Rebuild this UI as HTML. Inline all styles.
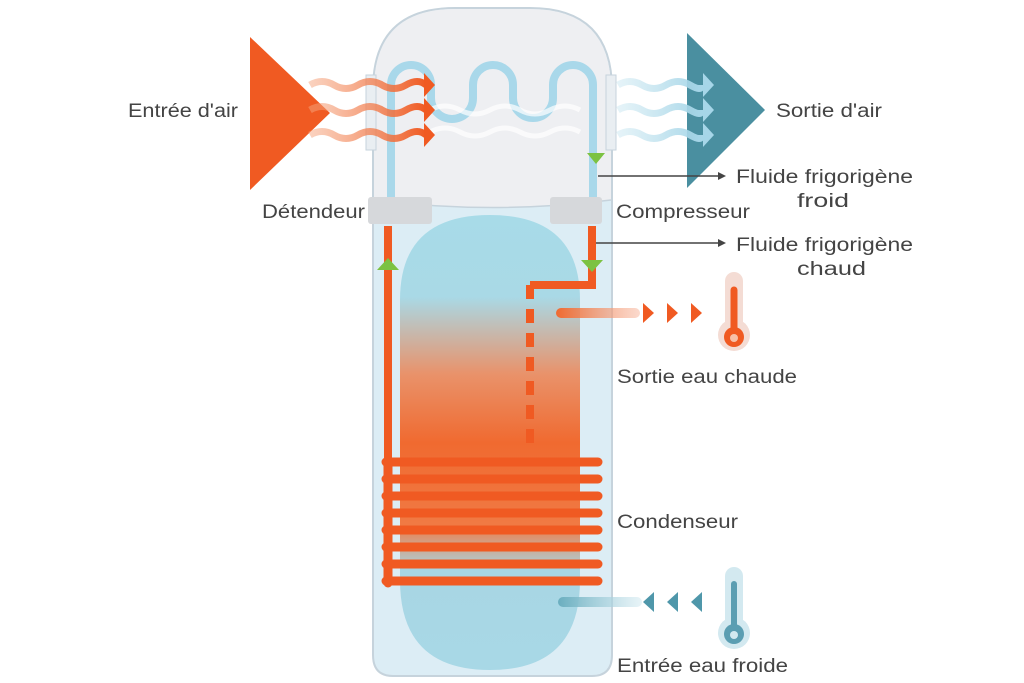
<!DOCTYPE html>
<html><head><meta charset="utf-8"><style>
html,body{margin:0;padding:0;background:#fff;width:1024px;height:683px;overflow:hidden}
svg{display:block}
text{font-family:"Liberation Sans",sans-serif;fill:#444;font-size:19px}
</style></head><body>
<svg width="1024" height="683" viewBox="0 0 1024 683" xmlns="http://www.w3.org/2000/svg">
<defs>
<linearGradient id="tank" x1="0" y1="0" x2="0" y2="1">
<stop offset="0" stop-color="#a8dbe8"/>
<stop offset="0.18" stop-color="#a9d9e6"/>
<stop offset="0.35" stop-color="#e9926a"/>
<stop offset="0.5" stop-color="#f06a30"/>
<stop offset="0.68" stop-color="#f07a44"/>
<stop offset="0.78" stop-color="#a8d6e4"/>
<stop offset="1" stop-color="#a8d8e6"/>
</linearGradient>
<linearGradient id="og" x1="0" x2="1"><stop offset="0" stop-color="#f5a57f" stop-opacity="0.5"/><stop offset="1" stop-color="#f05a22"/></linearGradient>
<linearGradient id="bg" x1="0" x2="1"><stop offset="0" stop-color="#bfe2ee" stop-opacity="0.4"/><stop offset="1" stop-color="#a6d6e8"/></linearGradient>
<linearGradient id="hot" x1="0" x2="1"><stop offset="0" stop-color="#f06a30"/><stop offset="1" stop-color="#f7b49a" stop-opacity="0.5"/></linearGradient>
<linearGradient id="cold" x1="0" x2="1"><stop offset="0" stop-color="#6aaebf"/><stop offset="1" stop-color="#cfe8f0" stop-opacity="0.5"/></linearGradient>
</defs>
<path d="M373 200 L373 90 Q373 8 455 8 L530 8 Q612 8 612 90 L612 655 Q612 676 592 676 L393 676 Q373 676 373 655 Z" fill="#dcedf5" stroke="#c6d3dc" stroke-width="2"/>
<path d="M374 200 L374 90 Q374 9 455 9 L530 9 Q611 9 611 90 L611 200 Q492 215 374 200 Z" fill="#eeeff2"/>
<path d="M374 200 Q492 215 611 200" fill="none" stroke="#c6d3dc" stroke-width="1.5"/>
<rect x="366" y="75" width="10" height="75" fill="#e9eef2" stroke="#c6d3dc"/>
<rect x="606" y="75" width="10" height="75" fill="#e9eef2" stroke="#c6d3dc"/>
<path d="M400 300 Q400 215 490 215 Q580 215 580 300 L580 580 Q580 670 490 670 Q400 670 400 580 Z" fill="url(#tank)"/>
<path d="M391 200 L391 85 A20 20 0 0 1 431 85 L431 98 A21 21 0 0 0 473 98 L473 85 A20 20 0 0 1 513 85 L513 98 A20 20 0 0 0 553 98 L553 85 A20 20 0 0 1 593 85 L593 200" fill="none" stroke="#a9d8ea" stroke-width="8"/>
<path d="M430 110 q15 -8 30 0 t30 0 t30 0 t30 0 t30 0" fill="none" stroke="#fff" stroke-width="5" opacity="0.7"/>
<path d="M430 132 q15 -8 30 0 t30 0 t30 0 t30 0 t30 0" fill="none" stroke="#fff" stroke-width="5" opacity="0.7"/>
<path d="M388 226 L388 470" stroke="#f05a22" stroke-width="8" fill="none"/>
<path d="M592 226 L592 285 L530 285" stroke="#f05a22" stroke-width="8" fill="none"/>
<path d="M530 285 L530 445" stroke="#f05a22" stroke-width="8" fill="none" stroke-dasharray="14 10"/>
<rect x="368" y="197" width="64" height="27" rx="3" fill="#d6d8db"/>
<rect x="550" y="197" width="52" height="27" rx="3" fill="#d6d8db"/>
<polygon points="587,153 605,153 596,164" fill="#7cc242"/>
<polygon points="581,260 603,260 592,272" fill="#7cc242"/>
<polygon points="377,270 399,270 388,258" fill="#7cc242"/>
<g stroke="#f05a22" stroke-width="9" stroke-linecap="round">
<line x1="386" y1="462" x2="598" y2="462"/><line x1="386" y1="479" x2="598" y2="479"/>
<line x1="386" y1="496" x2="598" y2="496"/><line x1="386" y1="513" x2="598" y2="513"/>
<line x1="386" y1="530" x2="598" y2="530"/><line x1="386" y1="547" x2="598" y2="547"/>
<line x1="386" y1="564" x2="598" y2="564"/><line x1="386" y1="581" x2="598" y2="581"/>
<line x1="388" y1="460" x2="388" y2="583"/>
</g>
<polygon points="250,37 250,190 330,113" fill="#f05a22"/>
<polygon points="687,33 687,188 765,110" fill="#4a8fa0"/>
<g fill="none" stroke="url(#og)" stroke-width="7">
<path d="M310 85 q12 -7 24 0 t24 0 t24 0 t24 0 t20 0"/>
<path d="M310 110 q12 -7 24 0 t24 0 t24 0 t24 0 t20 0"/>
<path d="M310 135 q12 -7 24 0 t24 0 t24 0 t24 0 t20 0"/>
</g>
<g fill="#f05a22"><polygon points="424,73 424,97 435,85"/><polygon points="424,98 424,122 435,110"/><polygon points="424,123 424,147 435,135"/></g>
<g fill="none" stroke="url(#bg)" stroke-width="7">
<path d="M618 85 q12 -7 24 0 t24 0 t24 0 t12 0"/>
<path d="M618 110 q12 -7 24 0 t24 0 t24 0 t12 0"/>
<path d="M618 135 q12 -7 24 0 t24 0 t24 0 t12 0"/>
</g>
<g fill="#a6d6e8"><polygon points="703,73 703,97 714,85"/><polygon points="703,98 703,122 714,110"/><polygon points="703,123 703,147 714,135"/></g>
<g stroke="#444" stroke-width="1.5"><line x1="598" y1="176" x2="718" y2="176"/><line x1="596" y1="243" x2="718" y2="243"/></g>
<polygon points="718,172 726,176 718,180" fill="#444"/><polygon points="718,239 726,243 718,247" fill="#444"/>
<rect x="556" y="308" width="84" height="10" rx="5" fill="url(#hot)"/>
<g fill="#f05a22"><polygon points="643,303 643,323 654,313"/><polygon points="667,303 667,323 678,313"/><polygon points="691,303 691,323 702,313"/></g>
<rect x="725" y="272" width="18" height="62" rx="9" fill="#f4dcd4"/><circle cx="734" cy="335" r="16" fill="#f4dcd4"/>
<line x1="734" y1="290" x2="734" y2="330" stroke="#f05a22" stroke-width="7" stroke-linecap="round"/>
<circle cx="734" cy="337" r="10" fill="#f05a22"/><circle cx="734" cy="338" r="4" fill="#f7c0a8"/>
<rect x="558" y="597" width="84" height="10" rx="5" fill="url(#cold)"/>
<g fill="#4f97aa"><polygon points="654,592 654,612 643,602"/><polygon points="678,592 678,612 667,602"/><polygon points="702,592 702,612 691,602"/></g>
<rect x="725" y="567" width="18" height="64" rx="9" fill="#d3e9f0"/><circle cx="734" cy="633" r="16" fill="#d3e9f0"/>
<line x1="734" y1="584" x2="734" y2="626" stroke="#5b9eb2" stroke-width="6" stroke-linecap="round"/>
<circle cx="734" cy="634" r="10" fill="#5b9eb2"/><circle cx="734" cy="635" r="4" fill="#d3e9f0"/>
<text x="128" y="117" textLength="110" lengthAdjust="spacingAndGlyphs">Entrée d'air</text>
<text x="776" y="117" textLength="106" lengthAdjust="spacingAndGlyphs">Sortie d'air</text>
<text x="262" y="218" textLength="103" lengthAdjust="spacingAndGlyphs">Détendeur</text>
<text x="616" y="218" textLength="134" lengthAdjust="spacingAndGlyphs">Compresseur</text>
<text x="736" y="183" textLength="177" lengthAdjust="spacingAndGlyphs">Fluide frigorigène</text>
<text x="797" y="207" textLength="52" lengthAdjust="spacingAndGlyphs">froid</text>
<text x="736" y="251" textLength="177" lengthAdjust="spacingAndGlyphs">Fluide frigorigène</text>
<text x="797" y="275" textLength="69" lengthAdjust="spacingAndGlyphs">chaud</text>
<text x="617" y="383" textLength="180" lengthAdjust="spacingAndGlyphs">Sortie eau chaude</text>
<text x="617" y="528" textLength="121" lengthAdjust="spacingAndGlyphs">Condenseur</text>
<text x="617" y="672" textLength="171" lengthAdjust="spacingAndGlyphs">Entrée eau froide</text>
</svg>
</body></html>
